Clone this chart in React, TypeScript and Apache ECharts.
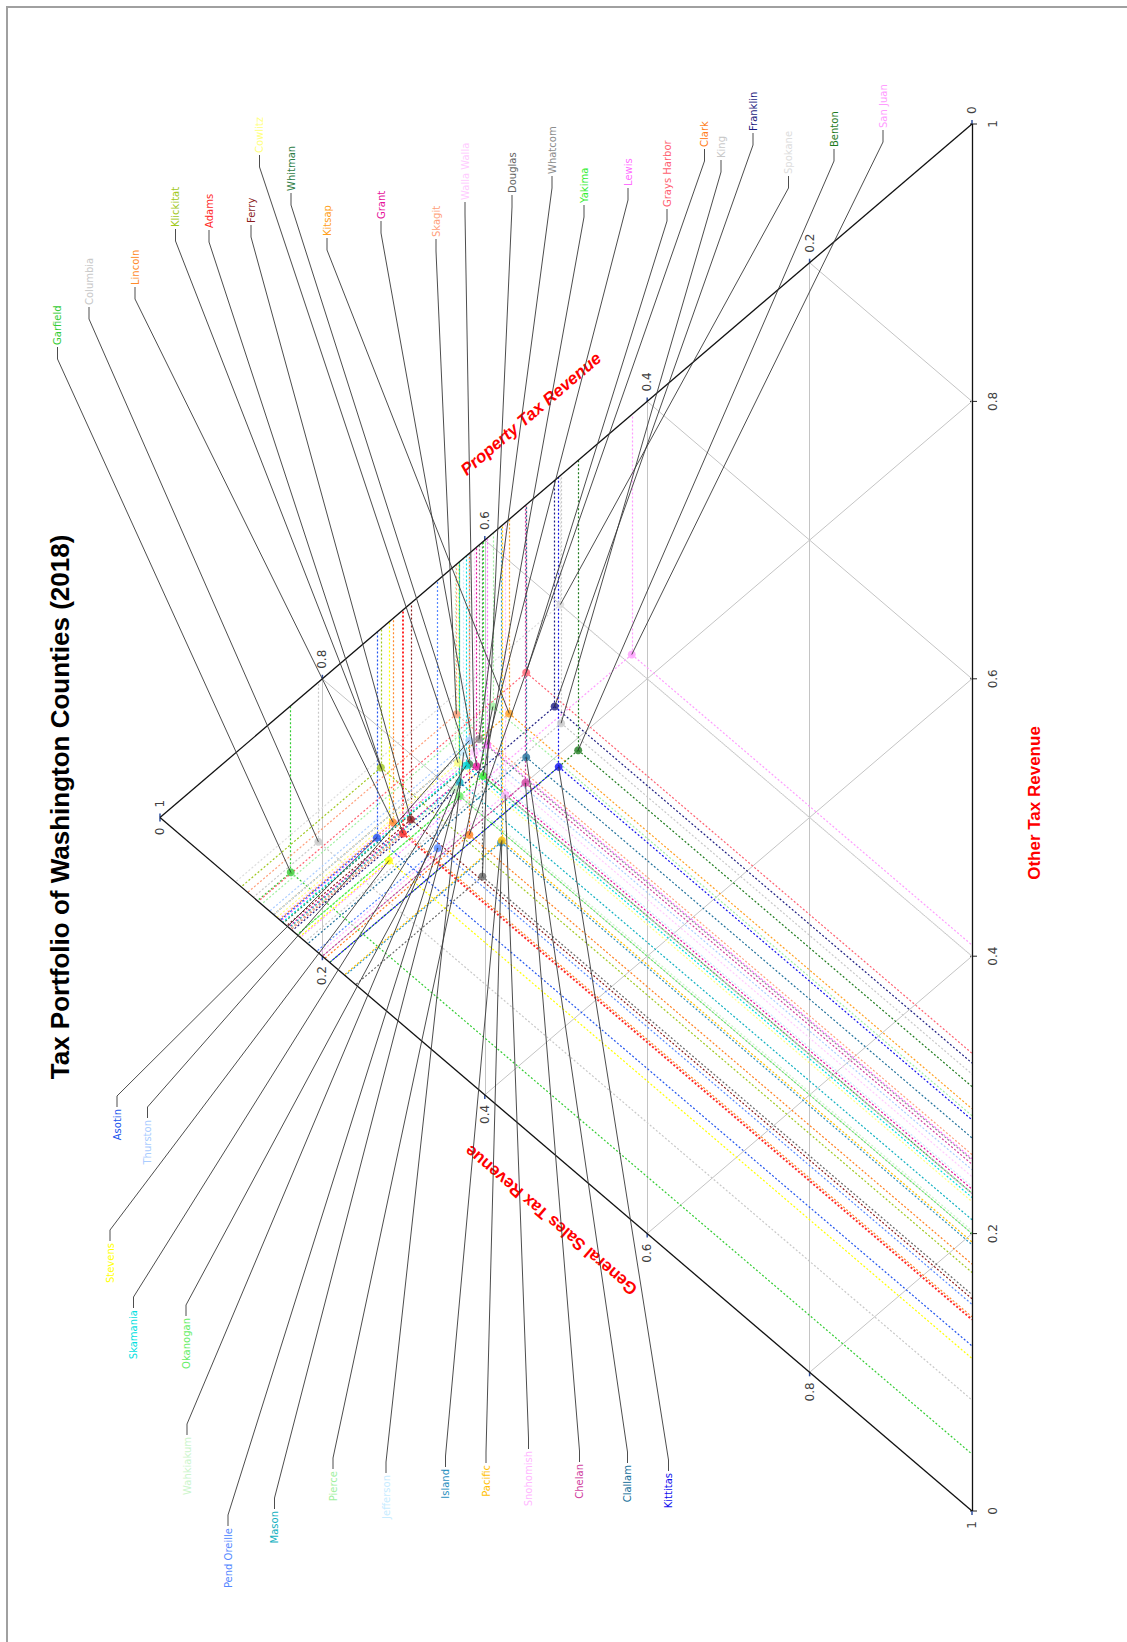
import React, { useEffect, useRef } from "react";
import * as echarts from "echarts";

// County revenue shares (property / general sales / other), 2018
const counties = [
  "Garfield", "Columbia", "Lincoln", "Klickitat", "Adams", "Ferry", "Cowlitz", "Whitman",
  "Kitsap", "Grant", "Skagit", "Walla Walla", "Douglas", "Whatcom", "Yakima", "Lewis",
  "Grays Harbor", "Clark", "King", "Franklin", "Spokane", "Benton", "San Juan",
  "Asotin", "Thurston", "Stevens", "Skamania", "Okanogan", "Wahkiakum", "Pend Oreille",
  "Mason", "Pierce", "Jefferson", "Island", "Pacific", "Snohomish", "Chelan", "Clallam", "Kittitas",
];
const propertyShare = [
  0.839, 0.805, 0.713, 0.728, 0.701, 0.691, 0.633, 0.619,
  0.570, 0.610, 0.635, 0.613, 0.603, 0.607, 0.602, 0.597,
  0.549, 0.619, 0.506, 0.514, 0.507, 0.485, 0.419,
  0.733, 0.619, 0.718, 0.623, 0.631, 0.637, 0.658,
  0.631, 0.590, 0.626, 0.580, 0.579, 0.575, 0.550, 0.549, 0.509,
];
const salesShare = [
  0.120, 0.115, 0.147, 0.100, 0.161, 0.156, 0.144, 0.152,
  0.140, 0.158, 0.108, 0.146, 0.241, 0.140, 0.169, 0.149,
  0.121, 0.203, 0.179, 0.163, 0.093, 0.209, 0.173,
  0.148, 0.135, 0.172, 0.151, 0.169, 0.161, 0.193,
  0.159, 0.125, 0.140, 0.228, 0.227, 0.196, 0.200, 0.182, 0.209,
];
const otherShare = [
  0.041, 0.080, 0.140, 0.172, 0.138, 0.153, 0.223, 0.229,
  0.290, 0.232, 0.257, 0.241, 0.156, 0.253, 0.229, 0.254,
  0.330, 0.178, 0.315, 0.323, 0.400, 0.306, 0.408,
  0.119, 0.246, 0.110, 0.226, 0.200, 0.202, 0.149,
  0.210, 0.285, 0.234, 0.192, 0.194, 0.229, 0.250, 0.269, 0.282,
];
const countyColors = [
  "#33cc33", "#c8c8c8", "#ff8a2a", "#a0c820", "#ff2a2a", "#8b1c1c", "#ffff80", "#2e7d46",
  "#ffa020", "#e6139b", "#ff9f7a", "#ffccff", "#666666", "#8c8c8c", "#33ee33", "#ff70ff",
  "#ff6070", "#ff7f1f", "#c8c8c8", "#1c1c80", "#dddddd", "#1e7b1e", "#ff9cff",
  "#2255ee", "#aaccff", "#ffff00", "#00e0e0", "#66ee66", "#ccf5cc", "#5588ff",
  "#10b0c0", "#a0f0a0", "#c8ecff", "#2a90c0", "#ffc000", "#ffb8ff", "#d040a0", "#20709a", "#1010ee",
];

// Name-label placement (pixel anchor of the label end nearest its leader)
const labelSide = [
  "top", "top", "top", "top", "top", "top", "top", "top",
  "top", "top", "top", "top", "top", "top", "top", "top",
  "top", "top", "top", "top", "top", "top", "top",
  "bottom", "bottom", "bottom", "bottom", "bottom", "bottom", "bottom",
  "bottom", "bottom", "bottom", "bottom", "bottom", "bottom", "bottom", "bottom", "bottom",
];
const labelX = [
  57.5, 89, 135, 175.5, 209, 251, 259.5, 291,
  327, 381, 436, 465, 512, 552, 584, 628,
  667, 704.5, 721, 753, 788.5, 834, 883,
  117, 147.5, 110, 133.5, 186, 187, 228,
  274.5, 333, 386, 445.5, 486, 528.5, 579.5, 627.5, 668.5,
];
const labelY = [
  345, 305, 285, 227, 228, 223, 153, 191,
  236, 219, 237, 200, 193, 174, 203, 186,
  207, 147, 158, 131, 174, 147, 128,
  1109, 1120, 1243, 1310, 1318, 1437, 1528,
  1511, 1471, 1475, 1469, 1465, 1451, 1464, 1465, 1473,
];

const tickValues = [0, 0.2, 0.4, 0.6, 0.8, 1];
const tickLabels = ["0", "0.2", "0.4", "0.6", "0.8", "1"];
const gridValues = [0.2, 0.4, 0.6, 0.8];

// ternary (property, other) -> plane coordinates of the rotated triangle
const toXY = (p: number, o: number) => [1 - p, o + p / 2];

export default function App() {
  const ref = useRef<HTMLDivElement>(null);

  useEffect(() => {
    const el = ref.current!;
    const chart = echarts.init(el, null, { renderer: "svg" });

    const gridLines: any[] = [];
    gridValues.forEach((t) => {
      gridLines.push({ coords: [toXY(t, 1 - t), toXY(t, 0)] });
      gridLines.push({ coords: [toXY(1 - t, t), toXY(0, t)] });
      gridLines.push({ coords: [toXY(1 - t, 0), toXY(0, 1 - t)] });
    });

    const guideLines: any[] = [];
    counties.forEach((name, i) => {
      const p = propertyShare[i];
      const s = salesShare[i];
      const o = otherShare[i];
      const c = countyColors[i];
      const w = name === "Adams" ? 2 : 1.2;
      const start = toXY(p, o);
      guideLines.push({ coords: [start, toXY(p, 1 - p)], lineStyle: { color: c, width: w } });
      guideLines.push({ coords: [start, toXY(1 - s, 0)], lineStyle: { color: c, width: w } });
      guideLines.push({ coords: [start, toXY(0, o)], lineStyle: { color: c, width: w } });
    });

    const apex = toXY(1, 0);
    const topV = toXY(0, 1);
    const botV = toXY(0, 0);

    chart.setOption({
      animation: false,
      backgroundColor: "#ffffff",
      grid: { left: 160, top: 124, width: 812, height: 1387 },
      xAxis: { type: "value", min: 0, max: 1, show: false },
      yAxis: { type: "value", min: 0, max: 1, show: false },
      series: [
        {
          type: "lines",
          coordinateSystem: "cartesian2d",
          silent: true,
          z: 1,
          lineStyle: { color: "#c4c4c4", width: 1, opacity: 1 },
          data: gridLines,
        },
        {
          type: "lines",
          coordinateSystem: "cartesian2d",
          silent: true,
          z: 2,
          lineStyle: { width: 1.2, type: [2, 2], opacity: 1 },
          data: guideLines,
        },
        {
          type: "lines",
          coordinateSystem: "cartesian2d",
          silent: true,
          z: 3,
          lineStyle: { color: "#111111", width: 1.3, opacity: 1 },
          data: [
            { coords: [apex, topV] },
            { coords: [topV, botV] },
            { coords: [botV, apex] },
          ],
        },
        {
          type: "scatter",
          silent: true,
          z: 4,
          symbolSize: 8,
          data: counties.map((name, i) => ({
            name,
            value: toXY(propertyShare[i], otherShare[i]),
            itemStyle: { color: countyColors[i] },
          })),
        },
      ],
    });

    const px = (p: number, o: number) =>
      chart.convertToPixel({ gridIndex: 0 }, toXY(p, o)) as number[];

    const tickFont = { fontFamily: "DejaVu Sans", fontSize: 12, fill: "#404040" };
    const g: any[] = [];

    // frame
    g.push({
      type: "rect",
      silent: true,
      shape: { x: 7, y: 7, width: 1400, height: 1900 },
      style: { fill: null, stroke: "#a0a0a0", lineWidth: 2 },
      z: 0,
    });

    // title and axis names
    g.push({
      type: "text",
      x: 60,
      y: 807,
      rotation: Math.PI / 2,
      silent: true,
      style: {
        text: "Tax Portfolio of Washington Counties (2018)",
        fontFamily: "Liberation Sans",
        fontWeight: "bold",
        fontSize: 26,
        fill: "#000000",
        align: "center",
        verticalAlign: "middle",
      },
    });
    g.push({
      type: "text",
      x: 1034,
      y: 803,
      rotation: Math.PI / 2,
      silent: true,
      style: {
        text: "Other Tax Revenue",
        fontFamily: "Liberation Sans",
        fontWeight: "bold",
        fontSize: 17,
        fill: "#ff0000",
        align: "center",
        verticalAlign: "middle",
      },
    });
    const edgeAngle = Math.atan2(693.5, 812);
    g.push({
      type: "text",
      x: 531,
      y: 414,
      rotation: edgeAngle,
      silent: true,
      style: {
        text: "Property Tax Revenue",
        fontFamily: "Liberation Sans",
        fontWeight: "bold",
        fontStyle: "italic",
        fontSize: 17,
        fill: "#ff0000",
        align: "center",
        verticalAlign: "middle",
      },
    });
    g.push({
      type: "text",
      x: 551,
      y: 1220,
      rotation: Math.PI - edgeAngle,
      silent: true,
      style: {
        text: "General Sales Tax Revenue",
        fontFamily: "Liberation Sans",
        fontWeight: "bold",
        fontSize: 17,
        fill: "#ff0000",
        align: "center",
        verticalAlign: "middle",
      },
    });

    // tick marks and labels for the three edges
    tickValues.forEach((t, k) => {
      // property edge (apex -> top vertex), labels above
      const a = px(t, 1 - t);
      g.push({
        type: "line",
        silent: true,
        shape: { x1: a[0], y1: a[1], x2: a[0], y2: a[1] - 4 },
        style: { stroke: "#3050a0", lineWidth: 1.5 },
      });
      g.push({
        type: "text",
        x: a[0],
        y: a[1] - 10,
        rotation: Math.PI / 2,
        silent: true,
        style: { ...tickFont, text: tickLabels[k], align: "left", verticalAlign: "middle" },
      });
      // general sales edge (apex -> bottom vertex), labels below
      const b = px(1 - t, 0);
      g.push({
        type: "line",
        silent: true,
        shape: { x1: b[0], y1: b[1], x2: b[0], y2: b[1] + 4 },
        style: { stroke: "#3050a0", lineWidth: 1.5 },
      });
      g.push({
        type: "text",
        x: b[0],
        y: b[1] + 10,
        rotation: Math.PI / 2,
        silent: true,
        style: { ...tickFont, text: tickLabels[k], align: "right", verticalAlign: "middle" },
      });
      // other edge (right side), labels to the right
      const c = px(0, t);
      g.push({
        type: "line",
        silent: true,
        shape: { x1: c[0] - 2, y1: c[1], x2: c[0] + 5, y2: c[1] },
        style: { stroke: "#222222", lineWidth: 1 },
      });
      g.push({
        type: "text",
        x: c[0] + 21,
        y: c[1],
        rotation: Math.PI / 2,
        silent: true,
        style: { ...tickFont, text: tickLabels[k], align: "center", verticalAlign: "middle" },
      });
    });

    // leader lines and county names
    counties.forEach((name, i) => {
      const pt = px(propertyShare[i], otherShare[i]);
      const top = labelSide[i] === "top";
      const lx = labelX[i];
      const ly = labelY[i];
      const anchorY = top ? ly + 2 : ly - 2;
      const elbowY = top ? ly + 14 : ly - 13;
      g.push({
        type: "polyline",
        silent: true,
        z: 100,
        shape: { points: [[lx, anchorY], [lx, elbowY], [pt[0], pt[1]]] },
        style: { stroke: "#3a3a3a", lineWidth: 1, fill: null, opacity: 0.9 },
      });
      g.push({
        type: "text",
        x: lx,
        y: ly,
        rotation: Math.PI / 2,
        silent: true,
        z: 100,
        style: {
          text: name,
          fontFamily: "DejaVu Sans",
          fontSize: 10,
          fill: countyColors[i],
          align: top ? "left" : "right",
          verticalAlign: "middle",
        },
      });
    });

    chart.setOption({ graphic: { elements: g } });

    return () => chart.dispose();
  }, []);

  return (
    <div
      ref={ref}
      style={{ position: "fixed", left: 0, top: 0, width: 1127, height: 1642, background: "#ffffff" }}
    />
  );
}
